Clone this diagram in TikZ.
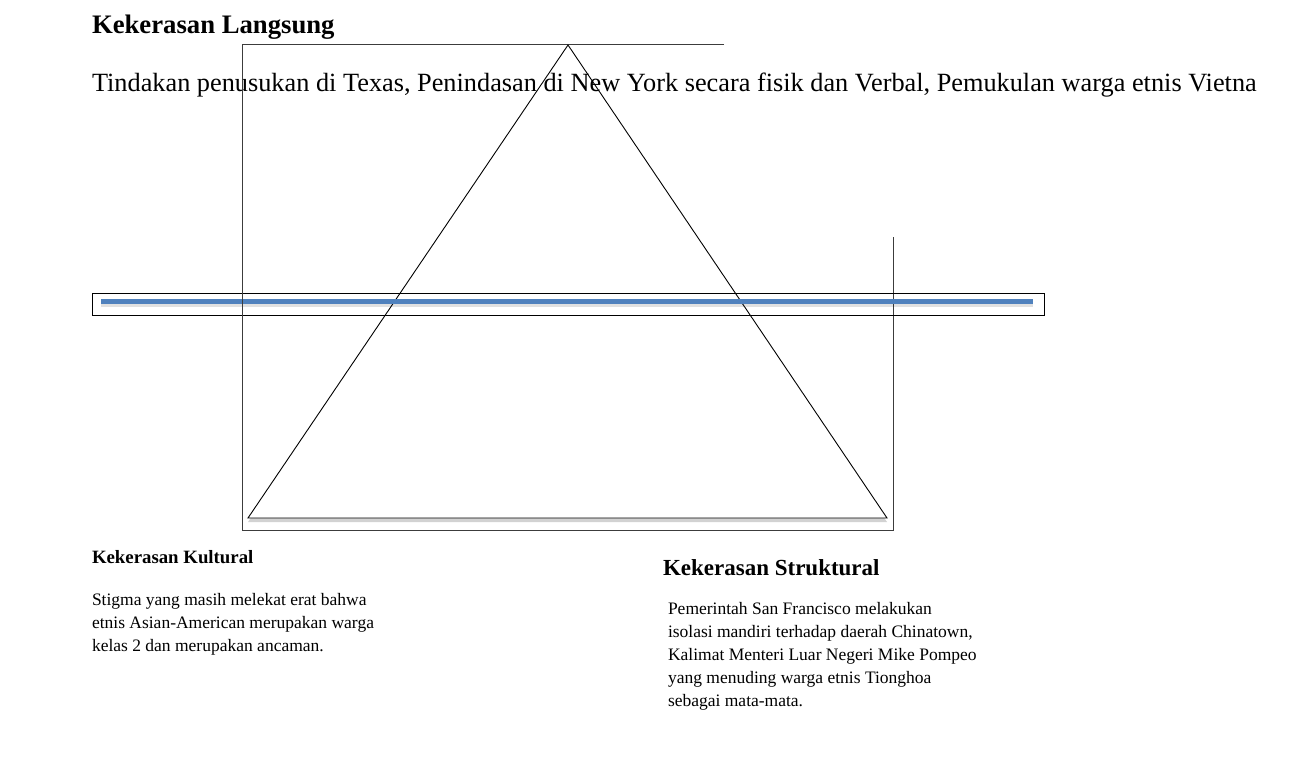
\documentclass[tikz,border=0pt]{standalone}
\usepackage{fontspec}
\setmainfont{Liberation Serif}
\usetikzlibrary{shadows}
\definecolor{blueline}{HTML}{4F81BD}
\definecolor{framegray}{HTML}{3C3C3C}
\tikzset{
  txt/.style={anchor=base west, inner sep=0pt, outer sep=0pt},
  framelines/.style={draw=framegray, line width=1pt},
  triline/.style={draw=black, line width=0.9pt},
}
\begin{document}
\begin{tikzpicture}[x=1pt,y=-1pt]
\useasboundingbox[fill=white] (0,0) rectangle (1290,762);
% frame
\coordinate (ftl) at (242,45);
\coordinate (ftr) at (724,45);
\coordinate (fbl) at (242,530);
\coordinate (fbr) at (893,530);
\coordinate (frt) at (893,237);
\draw[framelines] (ftr) -- (ftl) -- (fbl) -- (fbr) -- (frt);
% triangle
\coordinate (apex) at (568,45);
\coordinate (bl) at (248,518);
\coordinate (br) at (887,518);
\draw[triline, fill=white, drop shadow={shadow xshift=0pt, shadow yshift=-4pt, opacity=0.35}] (apex) -- (bl) -- (br) -- cycle;
% horizontal band
\draw[line width=0.9pt] (92,293) rectangle (1044,315);
\coordinate (bs) at (101,301);
\coordinate (be) at (1033,301);
\draw[line width=5pt, black, opacity=0.12] ([yshift=-3pt]bs) -- ([yshift=-3pt]be);
\draw[line width=5pt, blueline] (bs) -- (be);
% texts
\node[txt, font=\fontsize{26.7}{30}\selectfont\bfseries] (h1) at (92,34) {Kekerasan Langsung};
\node[txt, font=\fontsize{26.3}{30}\selectfont] (t1) at (92,92) {Tindakan penusukan di Texas, Penindasan di New York secara fisik dan Verbal, Pemukulan warga etnis Vietna};
\node[txt, font=\fontsize{18.8}{23}\selectfont\bfseries] (h2) at (92,563) {Kekerasan Kultural};
\node[txt, font=\fontsize{17.5}{23}\selectfont, align=left] (t2) at (92,651) {Stigma yang masih melekat erat bahwa\\etnis Asian-American merupakan warga\\kelas 2 dan merupakan ancaman.};
\node[txt, font=\fontsize{23}{26}\selectfont\bfseries] (h3) at (663,575) {Kekerasan Struktural};
\node[txt, font=\fontsize{17.5}{23}\selectfont, align=left] (t3) at (668,706) {Pemerintah San Francisco melakukan\\isolasi mandiri terhadap daerah Chinatown,\\Kalimat Menteri Luar Negeri Mike Pompeo\\yang menuding warga etnis Tionghoa\\sebagai mata-mata.};
\draw[framelines] (ftl) -- (fbl);
\end{tikzpicture}
\end{document}
